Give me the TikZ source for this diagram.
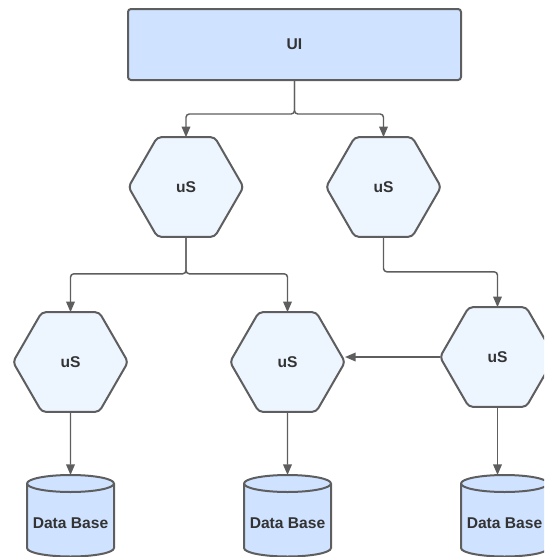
\documentclass[tikz,border=0pt]{standalone}
\usepackage{fontspec}
\setmainfont{Liberation Sans}
\usetikzlibrary{shapes.geometric,arrows.meta}
\definecolor{edge}{HTML}{5E5E5E}
\definecolor{uifill}{HTML}{CFE2FF}
\definecolor{hexfill}{HTML}{EDF5FF}
\definecolor{txt}{HTML}{333333}
\newcommand{\dbshape}[2]{%
  \draw[dbline] (#2-43.5,-483.5) -- (#2-43.5,-548)
    arc[start angle=180,end angle=360,x radius=32.625pt,y radius=6.375pt]
    -- (#2+43.5,-483.5)
    arc[start angle=0,end angle=180,x radius=32.625pt,y radius=6.375pt] -- cycle;
  \draw[dbline,fill=none] (#2-43.5,-483.5)
    arc[start angle=180,end angle=360,x radius=32.625pt,y radius=6.375pt];
  \coordinate (#1) at (#2,-475);
  \node[lbl] (#1t) at (#2,-523) {Data Base};}
\begin{document}
\begin{tikzpicture}[x=0.75pt,y=0.75pt,
  lbl/.style={text=txt,font=\fontsize{11.7}{14}\selectfont\bfseries,inner sep=0pt},
  uibox/.style={draw=edge,line width=1.5pt,fill=uifill,rounded corners=2.25pt,
    minimum width=249.75pt,minimum height=53.25pt,inner sep=0pt,outer sep=0pt,
    text=txt,font=\fontsize{11.7}{14}\selectfont\bfseries},
  hexnode/.style={regular polygon,regular polygon sides=6,draw=edge,line width=1.5pt,
    fill=hexfill,minimum size=86.25pt,inner sep=0pt,outer sep=0pt,rounded corners=3pt,
    text=txt,font=\fontsize{11.7}{14}\selectfont\bfseries},
  dbline/.style={draw=edge,line width=1.5pt,fill=uifill},
  conn/.style={draw=edge,line width=1.1pt,rounded corners=2.5pt,
    -{Triangle[length=8pt,width=6.5pt]}}]
\useasboundingbox (0,0) rectangle (544,-557);
\clip (0,0) rectangle (544,-557);

\node[uibox] (ui) at (294.5,-44.5) {UI};
\node[hexnode] (h1) at (186,-187) {uS};
\node[hexnode] (h2) at (383.5,-187) {uS};
\node[hexnode] (h3) at (70.5,-362) {uS};
\node[hexnode] (h4) at (287.5,-362) {uS};
\node[hexnode] (h5) at (497.5,-357) {uS};

\dbshape{db1}{70.5}
\dbshape{db2}{287.5}
\dbshape{db3}{504.5}

\draw[conn] (ui.south) -- ++(0,-34) -| (h1.north);
\draw[conn] (ui.south) -- ++(0,-34) -| (h2.north);
\draw[conn] (h1.south) -- ++(0,-37) -| (h3.north);
\draw[conn] (h1.south) -- ++(0,-37) -| (h4.north);
\draw[conn] (h2.south) -- ++(0,-35) -| (h5.north);
\draw[conn] (h5.west) -- (h5.west -| h4.east);
\draw[conn] (h3.south) -- (db1);
\draw[conn] (h4.south) -- (db2);
\draw[conn] (h5.south) -- (h5.south |- db3);
\end{tikzpicture}
\end{document}
